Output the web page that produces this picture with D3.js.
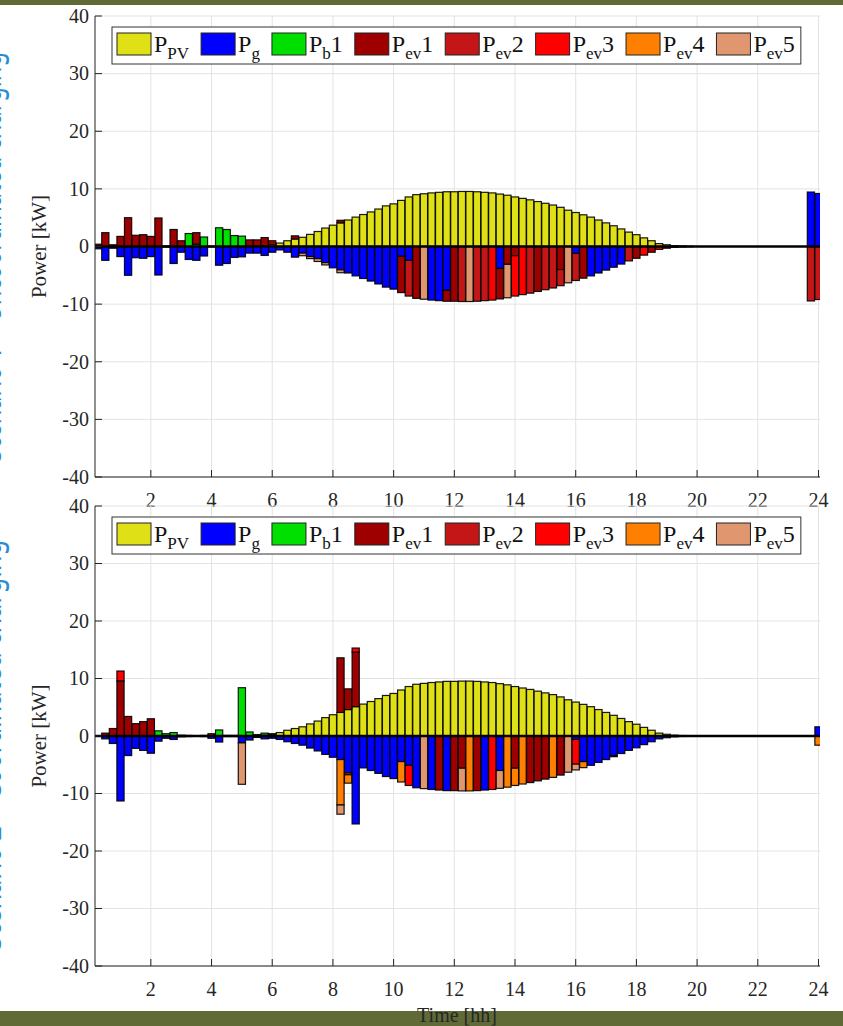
<!DOCTYPE html>
<html>
<head>
<meta charset="utf-8">
<script src="https://cdn.jsdelivr.net/npm/d3@7/dist/d3.min.js"></script>
<style>
html, body { margin: 0; padding: 0; background: #fff; }
svg { display: block; font-family: 'Liberation Serif', 'Times New Roman', serif; }
</style>
</head>
<body>
<svg id="chart" width="843" height="1026"></svg>
<script>
// time steps: 15 min, 0.25 .. 24 h
var hours = d3.range(1, 97).map(function(k){ return k * 0.25; });
var xTicks = [2, 4, 6, 8, 10, 12, 14, 16, 18, 20, 22, 24];
var yTicks = [-40, -30, -20, -10, 0, 10, 20, 30, 40];
var seriesKeys = ['PV', 'g', 'b1', 'ev1', 'ev2', 'ev3', 'ev4', 'ev5'];
var legendSub = ['PV', 'g', 'b', 'ev', 'ev', 'ev', 'ev', 'ev'];
var legendTail = ['', '', '1', '1', '2', '3', '4', '5'];
var seriesColors = ['#e0e016', '#0000ff', '#00e000', '#9e0000', '#c41616', '#ff0000', '#ff8000', '#e0976f'];

// PV production (same in both cases)
var pv = [
  0,0,0,0,0,0,0,0,
  0,0,0,0,0,0,0,0,
  0,0,0,0,0,0.05,0.15,0.3,
  0.6,1.0,1.3,1.6,2.1,2.6,3.2,3.7,
  4.1,4.6,5.1,5.55,6.0,6.5,7.05,7.4,
  8.0,8.6,9.0,9.15,9.3,9.4,9.5,9.5,
  9.55,9.55,9.5,9.4,9.3,9.1,8.9,8.6,
  8.35,8.1,7.8,7.5,7.2,6.8,6.3,5.9,
  5.5,5.1,4.6,4.1,3.6,3.05,2.5,2.05,
  1.5,1.0,0.5,0.3,0.15,0.08,0.03,0,
  0,0,0,0,0,0,0,0,
  0,0,0,0,0,0,0,0
];

// ---------- case 1 (upper panel) ----------
var gridA = [
  -0.4,-2.4,-0.3,-1.75,-5.0,-1.95,-2.05,-1.75,
  -4.95,-0.1,-2.95,-1.0,-2.25,-2.4,-1.65,-0.05,
  -3.25,-2.95,-1.9,-1.8,-1.15,-1.15,-1.55,-1.0,
  -0.6,-1.0,-1.85,-1.15,-1.75,-2.1,-2.8,-3.7,
  -4.05,-4.6,-5.1,-5.55,-6.0,-6.5,-7.05,-7.4,
  -1.7,-2.4,0,0,-9.3,-9.4,-7.6,0,
  0,0,0,0,0,-3.8,0,0,
  0,0,0,0,0,0,0,-1.2,
  0,-5.1,-4.6,-4.1,-3.6,-3.05,0,0,
  0,0,0,0,-0.15,-0.08,-0.03,0,
  0,0,0,0,0,0,0,0,
  0,0,0,0,0,0,9.45,9.2
];
var batA = [
  0,0,0,0,0,0,0,0,
  0,0,0,0,2.25,0.4,1.65,0,
  3.25,2.95,1.9,1.8,0,0,0,0,
  0,0,0,0,0,0,0,0,
  0,0,0,0,0,0,0,0,
  0,0,0,0,0,0,0,0,
  0,0,0,0,0,0,0,0,
  0,0,0,0,0,0,0,0,
  0,0,0,0,0,0,0,0,
  0,0,0,0,0,0,0,0,
  0,0,0,0,0,0,0,0,
  0,0,0,0,0,0,0,0
];
var ev1A = [
  0.4,2.4,0.3,1.75,5.0,1.95,2.05,1.75,
  4.95,0.1,2.95,1.0,0,2.0,0,0.05,
  0,0,0,0,1.15,1.1,1.4,0.7,
  0,0,0.55,0,0,0,0,0,
  0.45,0,0,0,0,0,0,0,
  -6.3,0,-9.0,0,0,0,-1.9,-9.5,
  0,0,0,0,0,-5.3,-3.1,-1.6,
  0,0,-7.8,0,0,-4.0,0,0,
  -5.5,0,0,0,0,0,0,-2.05,
  0,-1.0,0,-0.3,0,0,0,0,
  0,0,0,0,0,0,0,0,
  0,0,0,0,0,0,0,0
];
var ev2A = [
  0,0,0,0,0,0,0,0,
  0,0,0,0,0,0,0,0,
  0,0,0,0,0,0,0,0,
  0,0,0,0,0,0,0,0,
  0,0,0,0,0,0,0,0,
  0,-6.2,0,0,0,0,0,0,
  -9.55,0,-9.5,-9.4,0,0,0,0,
  0,-8.1,0,-7.5,-7.2,-2.8,0,-4.7,
  0,0,0,0,0,0,-2.5,0,
  0,0,0,0,0,0,0,0,
  0,0,0,0,0,0,0,0,
  0,0,0,0,0,0,-9.45,-9.2
];
var ev3A = [
  0,0,0,0,0,0,0,0,
  0,0,0,0,0,0,0,0,
  0,0,0,0,0,0,0,0,
  0,0,0,0,0,0,0,0,
  0,0,0,0,0,0,0,0,
  0,0,0,0,0,0,0,0,
  0,0,0,0,-9.3,0,0,-7.0,
  -8.35,0,0,0,0,0,0,0,
  0,0,0,0,0,0,0,0,
  -1.5,0,-0.5,0,0,0,0,0,
  0,0,0,0,0,0,0,0,
  0,0,0,0,0,0,0,0
];
var ev4A = hours.map(function(){ return 0; });
var ev5A = [
  0,0,0,0,0,0,0,0,
  0,0,0,0,0,0,0,0,
  0,0,0,0,0,0,0,0,
  0,0,0,-0.45,-0.35,-0.5,-0.4,0,
  -0.5,0,0,0,0,0,0,0,
  0,0,0,-9.15,0,0,0,0,
  0,-9.55,0,0,0,0,-5.8,0,
  0,0,0,0,0,0,-6.3,0,
  0,0,0,0,0,0,0,0,
  0,0,0,0,0,0,0,0,
  0,0,0,0,0,0,0,0,
  0,0,0,0,0,0,0,0
];

// ---------- case 2 (lower panel) ----------
var gridB = [
  0,-0.5,-1.3,-11.3,-3.4,-2.15,-2.5,-3.0,
  -0.9,-0.4,-0.6,-0.15,-0.1,-0.05,-0.1,-0.4,
  -1.05,-0.1,-0.1,-1.2,-0.7,-0.25,-0.5,-0.4,
  -0.6,-1.0,-1.3,-1.6,-2.1,-2.6,-3.2,-3.7,
  -4.1,-6.4,-15.3,-5.55,-6.0,-6.5,-7.05,-7.4,
  -4.45,-5.1,-9.0,0,-9.3,0,-9.5,0,
  0,0,0,-9.4,0,-6.0,0,0,
  0,0,0,0,0,0,0,-0.6,
  -4.45,-5.1,-4.6,-4.1,-3.4,-3.05,-2.5,-2.05,
  -1.5,-1.0,-0.5,-0.3,-0.15,-0.08,-0.03,0,
  0,0,0,0,0,0,0,0,
  0,0,0,0,0,0,0,1.6
];
var batB = [
  0,0,0,0,0,0,0,0,
  0.9,0.4,0.6,0,0,0,0,0,
  1.05,0,0,8.4,0.7,0.2,0.35,0.1,
  0,0,0,0,0,0,0,0,
  0,0,0,0,0,0,0,0,
  0,0,0,0,0,0,0,0,
  0,0,0,0,0,0,0,0,
  0,0,0,0,0,0,0,0,
  0,0,0,0,0,0,0,0,
  0,0,0,0,0,0,0,0,
  0,0,0,0,0,0,0,0,
  0,0,0,0,0,0,0,0
];
var ev1B = [
  0,0.5,1.3,9.6,3.4,2.15,2.5,3.0,
  0,0,0,0.15,0.1,0.05,0.1,0.4,
  0,0.1,0.1,0,0,0,0,0,
  0,0,0,0,0,0,0,0,
  9.5,3.6,9.5,0,0,0,0,0,
  0,0,0,0,0,-9.4,0,-9.5,
  -5.6,0,-9.5,0,0,0,0,-5.6,
  0,-8.1,-7.8,-7.5,0,-6.8,0,0,
  0,0,0,0,-0.2,0,0,0,
  0,0,0,0,0,0,0,0,
  0,0,0,0,0,0,0,0,
  0,0,0,0,0,0,0,0
];
var ev2B = [
  0,0,0,0,0,0,0,0,
  0,0,0,0,0,0,0,0,
  0,0,0,0,0,0,0,0,
  0,0,0,0,0,0,0,0,
  0,-0.35,0,0,0,0,0,0,
  0,0,0,0,0,0,0,0,
  0,0,0,0,0,0,0,0,
  0,0,0,0,0,0,0,0,
  0,0,0,0,0,0,0,0,
  0,0,0,0,0,0,0,0,
  0,0,0,0,0,0,0,0,
  0,0,0,0,0,0,0,0
];
var ev3B = [
  0,0,0,1.7,0,0,0,0,
  0,0,0,0,0,0,0,0,
  0,0,0,0,0,0,0,0,
  0,0,0,0,0,0,0,0,
  0,0,0.7,0,0,0,0,0,
  0,-3.5,0,0,0,0,0,0,
  0,0,0,0,-9.3,0,0,0,
  0,0,0,0,0,0,0,-4.3,
  0,0,0,0,0,0,0,0,
  0,0,0,0,0,0,0,0,
  0,0,0,0,0,0,0,0,
  0,0,0,0,0,0,0,0
];
var ev4B = [
  0,0,0,0,0,0,0,0,
  0,0,0,0,0,0,0,0,
  0,0,0,0,0,0,0,0,
  0,0,0,0,0,0,0,0,
  -7.9,-1.45,0,0,0,0,0,0,
  -3.55,0,0,0,0,0,0,0,
  0,-9.55,0,0,0,0,-8.9,-3.0,
  -8.35,0,0,0,-7.2,0,0,0,
  -1.05,0,0,0,0,0,0,0,
  0,0,0,0,0,0,0,0,
  0,0,0,0,0,0,0,0,
  0,0,0,0,0,0,0,-1.6
];
var ev5B = [
  0,0,0,0,0,0,0,0,
  0,0,0,0,0,0,0,0,
  0,0,0,-7.2,0,0,0,0,
  0,0,0,0,0,0,0,0,
  -1.6,0,0,0,0,0,0,0,
  0,0,0,-9.15,0,0,0,0,
  -3.95,0,0,0,0,-3.1,0,0,
  0,0,0,0,0,0,-6.3,-1.0,
  0,0,0,0,0,0,0,0,
  0,0,0,0,0,0,0,0,
  0,0,0,0,0,0,0,0,
  0,0,0,0,0,0,0,0
];

var svg = d3.select('#chart');
var W = 843, H = 1026;

// slide background bands
svg.append('rect').attr('x', 0).attr('y', 0).attr('width', W).attr('height', 5).attr('fill', '#5f6a36');
svg.append('rect').attr('x', 0).attr('y', 1011).attr('width', W).attr('height', 15).attr('fill', '#5f6a36');

// slide titles, mostly hidden past the left edge (only a sliver shows)
[[462, 'Scenario 1 \u2013 Uncoordinated charging'], [950, 'Scenario 2 \u2013 Coordinated charging']].forEach(function(t){
  svg.append('text')
    .attr('transform', 'translate(0.8,' + t[0] + ') rotate(-90)')
    .attr('textLength', 410)
    .attr('lengthAdjust', 'spacingAndGlyphs')
    .style('font-family', "'Noto Sans', sans-serif")
    .style('font-size', '34px')
    .attr('fill', '#2a8dd4')
    .text(t[1]);
});

var x = d3.scaleLinear().domain([0.16, 24.05]).range([95, 820]);
var barW = (x(0.25) - x(0)) * 0.95;

var drawPanel = function(o){
  var y = d3.scaleLinear().domain([-40, 40]).range([o.bottom, o.top]);
  var g = svg.append('g').attr('id', o.id);
  var clipId = o.id + '_clip';
  g.append('clipPath').attr('id', clipId)
    .append('rect').attr('x', x.range()[0]).attr('y', o.top)
    .attr('width', x.range()[1] - x.range()[0]).attr('height', o.bottom - o.top);

  // grid
  g.append('g').selectAll('line').data(xTicks).enter().append('line')
    .attr('x1', function(d){ return x(d); }).attr('x2', function(d){ return x(d); })
    .attr('y1', o.top).attr('y2', o.bottom)
    .attr('stroke', '#e3e3e3').attr('stroke-width', 1);
  g.append('g').selectAll('line').data(yTicks).enter().append('line')
    .attr('x1', x.range()[0]).attr('x2', x.range()[1])
    .attr('y1', function(d){ return y(d); }).attr('y2', function(d){ return y(d); })
    .attr('stroke', '#e3e3e3').attr('stroke-width', 1);

  // stacked bars: positives up, negatives down, in series order
  var posAcc = hours.map(function(){ return 0; });
  var negAcc = hours.map(function(){ return 0; });
  var barsG = g.append('g').attr('clip-path', 'url(#' + clipId + ')');
  o.series.forEach(function(vals, si){
    var rects = [];
    vals.forEach(function(v, i){
      if(v === 0) return;
      var y0, y1;
      if(v > 0){ y0 = posAcc[i]; y1 = y0 + v; posAcc[i] = y1; }
      else { y0 = negAcc[i]; y1 = y0 + v; negAcc[i] = y1; }
      rects.push({ t: hours[i], y0: y0, y1: y1 });
    });
    barsG.append('g').selectAll('rect').data(rects).enter().append('rect')
      .attr('x', function(d){ return x(d.t) - barW / 2; })
      .attr('width', barW)
      .attr('y', function(d){ return y(Math.max(d.y0, d.y1)); })
      .attr('height', function(d){ return Math.abs(y(d.y0) - y(d.y1)); })
      .attr('fill', seriesColors[si])
      .attr('stroke', '#000').attr('stroke-width', 1.2).attr('stroke-opacity', 0.9);
  });

  // baseline
  g.append('line').attr('x1', x.range()[0]).attr('x2', x.range()[1])
    .attr('y1', y(0)).attr('y2', y(0))
    .attr('stroke', '#000').attr('stroke-width', 2.5);

  // axes (left + bottom), ticks pointing inward
  g.append('line').attr('x1', x.range()[0]).attr('x2', x.range()[0])
    .attr('y1', o.top).attr('y2', o.bottom).attr('stroke', '#222').attr('stroke-width', 1);
  g.append('line').attr('x1', x.range()[0]).attr('x2', x.range()[1])
    .attr('y1', o.bottom).attr('y2', o.bottom).attr('stroke', '#222').attr('stroke-width', 1);
  g.append('g').selectAll('line').data(yTicks).enter().append('line')
    .attr('x1', x.range()[0]).attr('x2', x.range()[0] + 7)
    .attr('y1', function(d){ return y(d); }).attr('y2', function(d){ return y(d); })
    .attr('stroke', '#222');
  g.append('g').selectAll('line').data(xTicks).enter().append('line')
    .attr('x1', function(d){ return x(d); }).attr('x2', function(d){ return x(d); })
    .attr('y1', o.bottom).attr('y2', o.bottom - 7)
    .attr('stroke', '#222');

  g.append('g').selectAll('text').data(yTicks).enter().append('text')
    .attr('x', 89).attr('y', function(d){ return y(d); }).attr('dy', '0.34em')
    .attr('text-anchor', 'end').style('font-size', '20px').attr('fill', '#262626')
    .text(function(d){ return d; });
  g.append('g').selectAll('text').data(xTicks).enter().append('text')
    .attr('x', function(d){ return x(d); }).attr('y', o.bottom + 30)
    .attr('text-anchor', 'middle').style('font-size', '20px').attr('fill', '#262626')
    .text(function(d){ return d; });

  g.append('text')
    .attr('transform', 'translate(46,' + y(0) + ') rotate(-90)')
    .attr('text-anchor', 'middle').style('font-size', '21px').attr('fill', '#262626')
    .text('Power [kW]');

  // legend
  var lg = g.append('g');
  var box = lg.append('rect').attr('x', 112).attr('y', o.top + 11).attr('height', 37)
    .attr('fill', '#fff').attr('stroke', '#333').attr('stroke-width', 1);
  var cx = 117;
  seriesKeys.forEach(function(k, si){
    lg.append('rect').attr('x', cx).attr('y', o.top + 17).attr('width', 34).attr('height', 22)
      .attr('fill', seriesColors[si]).attr('stroke', '#222').attr('stroke-width', 1);
    cx += 37;
    var t = lg.append('text').attr('x', cx).attr('y', o.top + 36).attr('fill', '#111')
      .style('font-size', '24px');
    t.append('tspan').text('P');
    t.append('tspan').attr('dy', 7).style('font-size', '17px').text(legendSub[si]);
    if(legendTail[si]) t.append('tspan').attr('dy', -7).text(legendTail[si]);
    cx += t.node().getComputedTextLength() + 12;
  });
  box.attr('width', cx - 112 - 6);
};

drawPanel({ id: 'panel_a', top: 16, bottom: 477,
  series: [pv, gridA, batA, ev1A, ev2A, ev3A, ev4A, ev5A] });
drawPanel({ id: 'panel_b', top: 506, bottom: 966,
  series: [pv, gridB, batB, ev1B, ev2B, ev3B, ev4B, ev5B] });

svg.append('text').attr('x', 457).attr('y', 1022).attr('text-anchor', 'middle')
  .style('font-size', '20px').attr('fill', '#262626').text('Time [hh]');
</script>
</body>
</html>
